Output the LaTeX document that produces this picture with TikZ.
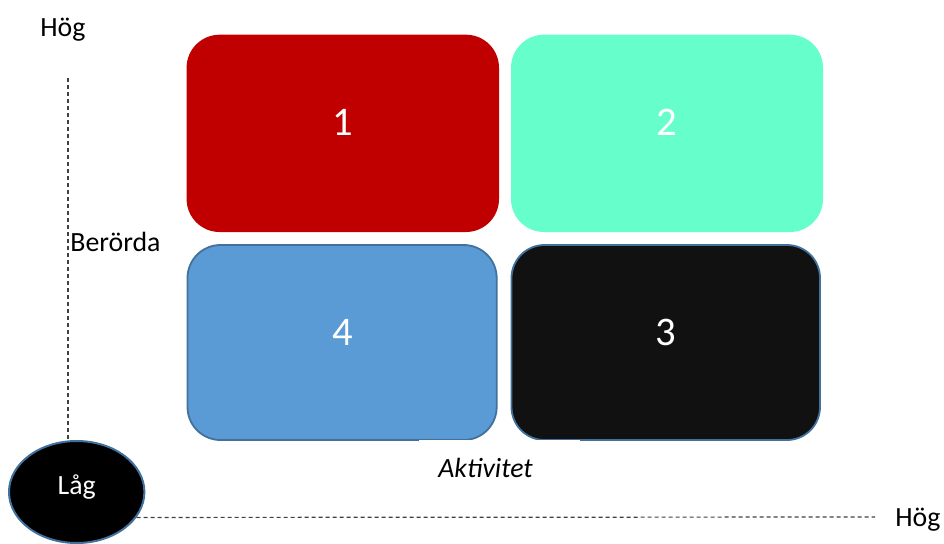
\documentclass[tikz,border=0pt]{standalone}
\usepackage{fontspec}
\setmainfont{Carlito}
\usetikzlibrary{shapes.geometric}
\definecolor{qred}{HTML}{C00000}
\definecolor{qaqua}{HTML}{66FFCC}
\definecolor{qblue}{HTML}{5B9BD5}
\definecolor{qedge}{HTML}{41719C}
\definecolor{qblack}{HTML}{111111}
\definecolor{axisgray}{HTML}{404040}
\begin{document}
\begin{tikzpicture}[x=0.5pt,y=-0.5pt,
  lbl/.style={font=\fontsize{13.9pt}{16pt}\selectfont, inner sep=0pt, text=black},
  num/.style={font=\fontsize{20.3pt}{24pt}\selectfont, inner sep=0pt, text=white, anchor=base},
  quad/.style={rectangle, rounded corners=16.5pt, inner sep=0pt, outer sep=0pt},
  edged/.style={quad, draw=qedge, line width=0.9pt},
  axisline/.style={draw=axisgray, line width=0.6pt, dash pattern=on 2pt off 1.5pt}]
\useasboundingbox (0,0) rectangle (944,543);
% quadrants
\node[quad, fill=qred,  minimum width=156.2pt, minimum height=98.65pt] (q1) at (342.8,133.35) {};
\node[quad, fill=qaqua, minimum width=156pt,   minimum height=98.65pt] (q2) at (667,133.35) {};
\node[edged, fill=qblue,  minimum width=154.6pt,  minimum height=97.5pt] (q4) at (342.1,342.5) {};
\node[edged, fill=qblack, minimum width=154.25pt, minimum height=97.5pt] (q3) at (665.75,342.5) {};
% white text box partially covering the bottom edges
\fill[white] (419,439.8) rectangle (580,455);
% numbers
\node[num] (n1) at (342.8,135) {1};
\node[num] (n2) at (666.5,135) {2};
\node[num] (n4) at (342.3,345) {4};
\node[num] (n3) at (665.7,345) {3};
% low ellipse
\node[ellipse, draw=qedge, line width=1pt, fill=black, inner sep=0pt,
      minimum width=67.7pt, minimum height=51pt] (low) at (76.7,492) {};
\node[lbl, text=white, anchor=base] (lowtxt) at (76.7,494) {Låg};
% axes
\coordinate (vtop) at (68,78);
\coordinate (hend) at (875,517);
\draw[axisline] (vtop) -- (vtop |- low.north);
\draw[axisline] (low.-23) -- (hend);
% labels
\node[lbl, anchor=base west] (hogy) at (40,36) {Hög};
\node[lbl, anchor=base west] (hogx) at (895,526) {Hög};
\node[lbl, anchor=base west] (ber) at (70,251.7) {Berörda};
\node[lbl, anchor=base west, font=\fontsize{13.9pt}{16pt}\selectfont\itshape] (akt) at (438,477) {Aktivitet};
\end{tikzpicture}
\end{document}
